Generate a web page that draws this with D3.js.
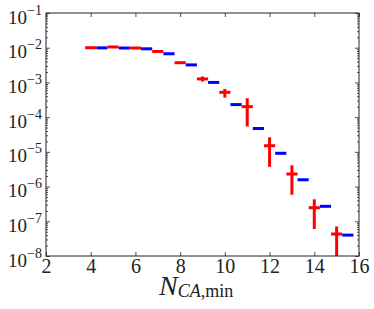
<!DOCTYPE html>
<html>
<head>
<meta charset="utf-8">
<script src="https://cdn.jsdelivr.net/npm/d3@7"></script>
<style>
  body { margin: 0; background: #fff; }
  text { font-family: "Liberation Serif", "DejaVu Serif", serif; fill: #222; }
</style>
</head>
<body>
<svg width="374" height="309"></svg>
<script>
// red points (with error bars) at integer N
const redX = [4, 5, 6, 7, 8, 9, 10, 11, 12, 13, 14, 15];
const redY = [1.0e-2, 1.05e-2, 9.8e-3, 7.8e-3, 3.7e-3, 1.26e-3, 5.2e-4, 2.0e-4, 1.5e-5, 2.3e-6, 2.46e-7, 4.3e-8];
const redLo = [1.0e-2, 1.05e-2, 9.8e-3, 7.8e-3, 3.6e-3, 1.06e-3, 3.66e-4, 5.4e-5, 3.7e-6, 5.8e-7, 6.0e-8, 5e-9];
const redHi = [1.0e-2, 1.05e-2, 9.8e-3, 7.8e-3, 3.8e-3, 1.48e-3, 6.5e-4, 3.5e-4, 2.63e-5, 4.1e-6, 4.3e-7, 7.1e-8];

// blue segments at half-integer N
const blueX = [4.5, 5.5, 6.5, 7.5, 8.5, 9.5, 10.5, 11.5, 12.5, 13.5, 14.5, 15.5];
const blueY = [9.9e-3, 9.8e-3, 9.3e-3, 6.7e-3, 3.2e-3, 1.0e-3, 2.3e-4, 4.7e-5, 9.1e-6, 1.57e-6, 2.7e-7, 4.0e-8];

const xTicks = [2, 4, 6, 8, 10, 12, 14, 16];
const yExps = [-1, -2, -3, -4, -5, -6, -7, -8];

const margin = { top: 13, right: 15, bottom: 53, left: 46 };
const width = 374;
const height = 309;
const halfW = 0.25;

const svg = d3.select("svg");

const x = d3.scaleLinear().domain([2, 16]).range([margin.left, width - margin.right]);
const y = d3.scaleLog().domain([1e-8, 1e-1]).range([height - margin.bottom, margin.top]);

svg.append("clipPath").attr("id", "clip")
  .append("rect")
  .attr("x", margin.left).attr("y", margin.top)
  .attr("width", x(16) - x(2)).attr("height", y(1e-8) - y(1e-1));

const plot = svg.append("g").attr("clip-path", "url(#clip)");

// blue
plot.selectAll("line.blue")
  .data(blueX.map((d, i) => ({ x: d, y: blueY[i] })))
  .enter().append("line")
  .attr("class", "blue")
  .attr("x1", d => x(d.x - halfW))
  .attr("x2", d => x(d.x + halfW))
  .attr("y1", d => y(d.y))
  .attr("y2", d => y(d.y))
  .attr("stroke", "#0000ff")
  .attr("stroke-width", 3);

// red
const red = redX.map((d, i) => ({ x: d, y: redY[i], lo: redLo[i], hi: redHi[i] }));
plot.selectAll("line.redh")
  .data(red)
  .enter().append("line")
  .attr("class", "redh")
  .attr("x1", d => x(d.x - halfW))
  .attr("x2", d => x(d.x + halfW))
  .attr("y1", d => y(d.y))
  .attr("y2", d => y(d.y))
  .attr("stroke", "#ff0000")
  .attr("stroke-width", 3);
plot.selectAll("line.redv")
  .data(red.filter(d => d.hi > d.lo))
  .enter().append("line")
  .attr("class", "redv")
  .attr("x1", d => x(d.x))
  .attr("x2", d => x(d.x))
  .attr("y1", d => y(d.lo))
  .attr("y2", d => y(d.hi))
  .attr("stroke", "#ff0000")
  .attr("stroke-width", 3);

// minor y ticks
const minor = [];
for (let e = -8; e < -1; e++) {
  for (let m = 2; m <= 9; m++) minor.push(m * Math.pow(10, e));
}

function styleAxis(g) {
  g.select(".domain").remove();
  g.selectAll(".tick line").attr("stroke", "#222").attr("stroke-width", 0.8);
}

svg.append("g")
  .attr("transform", `translate(0, ${y(1e-8)})`)
  .call(d3.axisBottom(x).tickValues(xTicks).tickSize(-4).tickPadding(3).tickFormat(d3.format("d")))
  .call(styleAxis)
  .call(g => g.selectAll("text").attr("font-size", 20).attr("font-family", "Liberation Serif").attr("fill", "#222"));
svg.append("g")
  .attr("transform", `translate(0, ${y(1e-1)})`)
  .call(d3.axisTop(x).tickValues(xTicks).tickSize(-4).tickFormat(""))
  .call(styleAxis);

const yMajor = yExps.map(e => Math.pow(10, e));
svg.append("g")
  .attr("transform", `translate(${x(2)}, 0)`)
  .call(d3.axisLeft(y).tickValues(yMajor).tickSize(-4).tickFormat(""))
  .call(styleAxis);
svg.append("g")
  .attr("transform", `translate(${x(2)}, 0)`)
  .call(d3.axisLeft(y).tickValues(minor).tickSize(-2).tickFormat(""))
  .call(styleAxis);
svg.append("g")
  .attr("transform", `translate(${x(16)}, 0)`)
  .call(d3.axisRight(y).tickValues(yMajor).tickSize(-4).tickFormat(""))
  .call(styleAxis);
svg.append("g")
  .attr("transform", `translate(${x(16)}, 0)`)
  .call(d3.axisRight(y).tickValues(minor).tickSize(-2).tickFormat(""))
  .call(styleAxis);

// y tick labels 10^e
const yl = svg.append("g").selectAll("text")
  .data(yExps)
  .enter().append("text")
  .attr("x", 42)
  .attr("y", e => y(Math.pow(10, e)) + 10.5)
  .attr("text-anchor", "end")
  .attr("font-size", 19);
yl.append("tspan").text("10");
yl.append("tspan")
  .attr("font-size", 14)
  .attr("dy", -9)
  .text(e => "\u2212" + Math.abs(e));

// frame
svg.append("rect")
  .attr("x", x(2)).attr("y", y(1e-1))
  .attr("width", x(16) - x(2)).attr("height", y(1e-8) - y(1e-1))
  .attr("fill", "none").attr("stroke", "#222").attr("stroke-width", 1);

// x label
const xl = svg.append("text")
  .attr("x", 159)
  .attr("y", 295)
  .attr("font-size", 28);
xl.append("tspan").attr("font-style", "italic").text("N");
xl.append("tspan").attr("font-size", 18).attr("dy", 2).attr("font-style", "italic").text("CA");
xl.append("tspan").attr("font-size", 18).text(",min");
</script>
</body>
</html>
